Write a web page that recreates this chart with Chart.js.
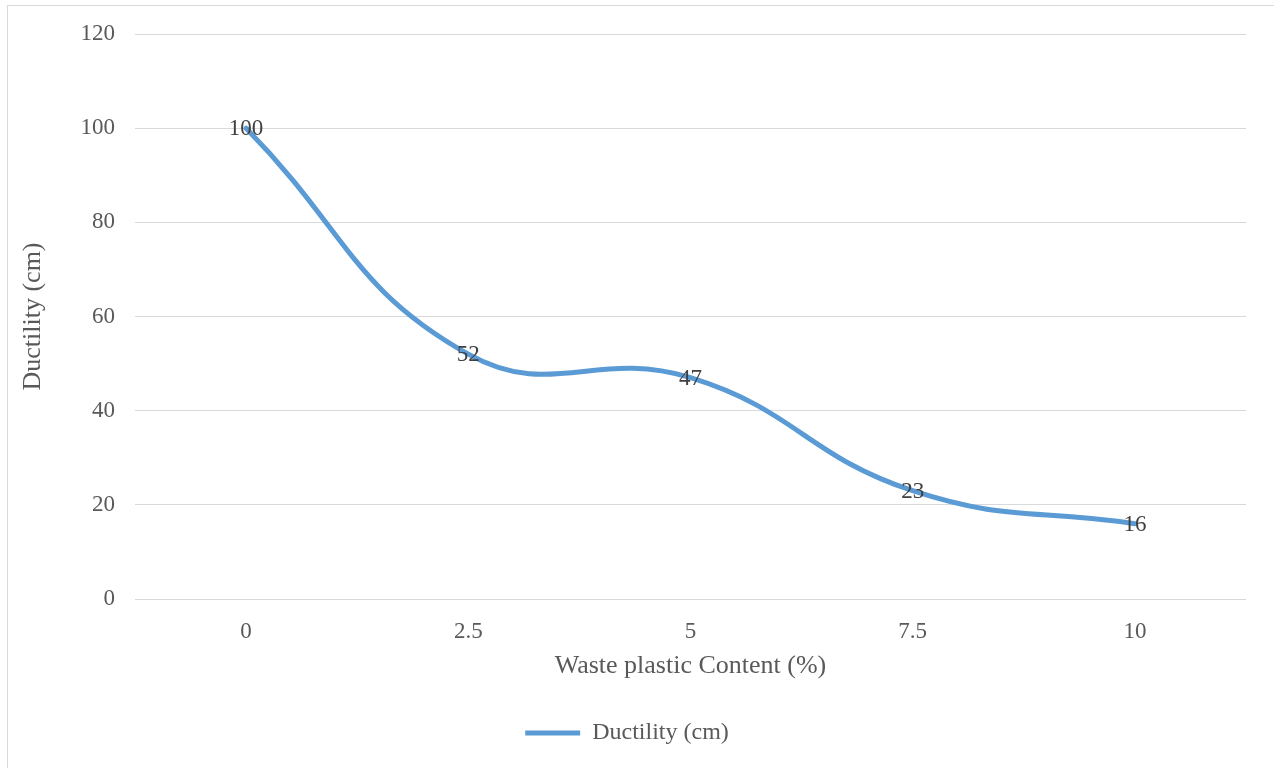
<!DOCTYPE html>
<html>
<head>
<meta charset="utf-8">
<script src="https://cdn.jsdelivr.net/npm/chart.js@4/dist/chart.umd.min.js"></script>
<style>
  html, body { margin: 0; padding: 0; background: #fff; }
  #wrap { position: relative; width: 1274px; height: 768px; }
  #frame { position: absolute; left: 7px; top: 5px; right: 0; bottom: -2px;
           border-left: 1px solid #d9d9d9; border-top: 1px solid #d9d9d9; pointer-events: none; }
  canvas { position: absolute; left: 0; top: 0; }
</style>
</head>
<body>
<div id="wrap">
  <canvas id="c" width="1274" height="768"></canvas>
  <div id="frame"></div>
</div>
<script>
// 数据
const categories = ['0', '2.5', '5', '7.5', '10'];
const ductility = [100, 52, 47, 23, 16];
const seriesName = 'Ductility (cm)';
const xTitle = 'Waste plastic Content (%)';
const yTitle = 'Ductility (cm)';

const FONT = "'Liberation Serif', 'Times New Roman', serif";

// 数据标签：居中画在点上
const pointLabels = {
  id: 'pointLabels',
  afterDatasetsDraw(chart) {
    const ctx = chart.ctx;
    const meta = chart.getDatasetMeta(0);
    ctx.save();
    ctx.font = '23px ' + FONT;
    ctx.fillStyle = '#404040';
    ctx.textAlign = 'center';
    ctx.textBaseline = 'middle';
    meta.data.forEach((pt, i) => {
      ctx.fillText(String(ductility[i]), pt.x, pt.y + 1);
    });
    ctx.restore();
  }
};

new Chart(document.getElementById('c'), {
  type: 'line',
  data: {
    labels: categories,
    datasets: [{
      label: seriesName,
      data: ductility,
      borderColor: '#5b9bd5',
      backgroundColor: '#5b9bd5',
      borderWidth: 5,
      borderCapStyle: 'round',
      borderJoinStyle: 'round',
      tension: 0.45,
      pointRadius: 0,
      fill: false,
    }],
  },
  options: {
    responsive: false,
    animation: false,
    layout: { padding: { left: 8, right: 28, top: 34, bottom: 13 } },
    plugins: {
      legend: {
        position: 'bottom',
        labels: {
          usePointStyle: true,
          pointStyle: 'line',
          pointStyleWidth: 55,
          color: '#595959',
          font: { family: FONT, size: 24 },
          padding: 22,
        },
      },
      tooltip: { enabled: false },
    },
    scales: {
      x: {
        offset: true,
        grid: { display: false, drawTicks: false },
        border: { display: false },
        ticks: { color: '#595959', font: { family: FONT, size: 23 }, padding: 19, maxRotation: 0 },
        title: { display: true, text: xTitle, color: '#595959', font: { family: FONT, size: 26 }, padding: { top: 4, bottom: 17 } },
        afterFit(scale) { scale.height = 100; },
      },
      y: {
        min: 0,
        max: 120,
        grid: { color: '#d9d9d9', lineWidth: 1, drawTicks: false },
        border: { display: false },
        ticks: { stepSize: 20, color: '#595959', font: { family: FONT, size: 23 }, padding: 20 },
        title: { display: true, text: yTitle, color: '#595959', font: { family: FONT, size: 26 }, padding: { top: 10, bottom: 4 } },
        afterFit(scale) { scale.width = 127; },
      },
    },
  },
  plugins: [pointLabels],
});
</script>
</body>
</html>
